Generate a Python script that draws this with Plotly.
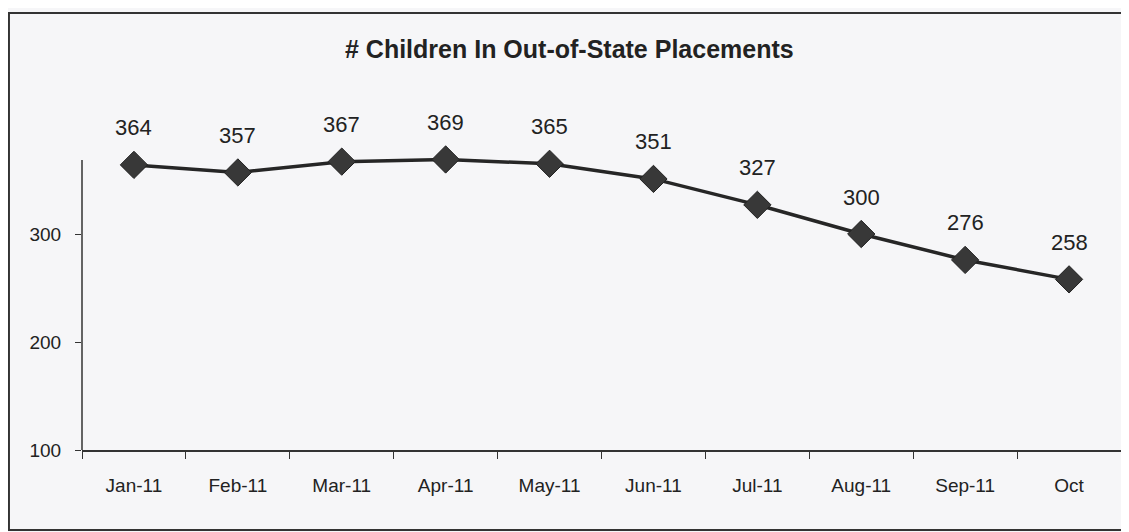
import plotly.graph_objects as go

months = ["Jan-11", "Feb-11", "Mar-11", "Apr-11", "May-11", "Jun-11",
          "Jul-11", "Aug-11", "Sep-11", "Oct"]
children = [364, 357, 367, 369, 365, 351, 327, 300, 276, 258]
y_ticks = [100, 200, 300]
title_text = "# Children In Out-of-State Placements"

BG = "#f6f6f8"
INK = "#222222"
FONT = "Liberation Sans, Arial, sans-serif"

fig = go.Figure()
fig.add_trace(go.Scatter(
    x=months, y=children, mode="lines+markers",
    line=dict(color="#262626", width=3.5),
    marker=dict(symbol="diamond", size=21, color="#383838",
                line=dict(color="#222222", width=1)),
    cliponaxis=False, hoverinfo="x+y", showlegend=False,
))

for m, v in zip(months, children):
    fig.add_annotation(x=m, y=v, text=str(v), showarrow=False,
                       yanchor="middle", yshift=37,
                       font=dict(family=FONT, size=22, color=INK))

fig.add_annotation(xref="paper", yref="paper", x=0.4695, y=1.0,
                   xanchor="center", yanchor="middle", yshift=77,
                   text="<b>" + title_text + "</b>", showarrow=False,
                   font=dict(family=FONT, size=25, color=INK))

# y-axis line (stops just above the data, as in the original)
fig.add_shape(type="line", xref="paper", yref="y", x0=0, x1=0,
              y0=100, y1=368.5, line=dict(color="#333333", width=1.5))

# outer frame
fig.add_shape(type="rect", xref="paper", yref="paper",
              x0=-0.0703, x1=1.02, y0=-0.247, y1=1.349,
              line=dict(color="#333333", width=2), layer="below")

fig.update_layout(
    width=1121, height=524,
    margin=dict(l=74, r=8, t=118, b=82),
    paper_bgcolor=BG, plot_bgcolor=BG,
    font=dict(family=FONT, color=INK),
    xaxis=dict(
        type="category", showgrid=False, zeroline=False,
        showline=True, linecolor="#333333", linewidth=1.5,
        ticks="outside", tickson="boundaries", ticklen=7, tickcolor="#333333",
        tickfont=dict(size=19, family=FONT, color=INK),
        ticklabelstandoff=17, range=[-0.5, 9.5],
    ),
    yaxis=dict(
        range=[100, 400], tickvals=y_ticks, showgrid=False, zeroline=False,
        showline=False,
        ticks="outside", ticklen=6, tickcolor="#333333",
        tickfont=dict(size=19, family=FONT, color=INK),
        ticklabelstandoff=10,
    ),
)

fig.write_html("out.html")
